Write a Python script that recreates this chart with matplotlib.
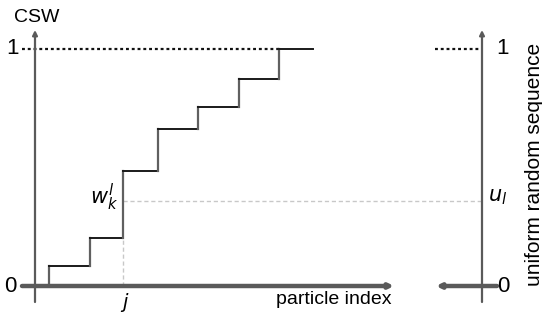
import matplotlib
matplotlib.use("Agg")
import matplotlib.pyplot as plt

# ---- data ----
particle_x = [49, 90, 123, 158, 198, 239, 279, 313]   # step edges along particle index
csw = [0.084, 0.203, 0.485, 0.662, 0.755, 0.873, 1.0]  # cumulative sum of weights
u_l = 0.359            # uniform random number
j_x = 123              # selected particle j
tick_labels = ["0", "1"]

plt.rcParams['font.family'] = ['Liberation Sans', 'DejaVu Sans']

W, H = 542, 322
fig = plt.figure(figsize=(W / 100, H / 100), dpi=100)
ax = fig.add_axes([0, 0, 1, 1])
ax.set_xlim(0, W)
y0px, y1px = 286, 49
scale = y0px - y1px
ax.set_ylim((y0px - H) / scale, y0px / scale)
ax.axis('off')

def py(p):
    return (y0px - p) / scale

axis_col = '#5a5a5a'
FS = 14
FSD = 16

# left vertical axis
ax.annotate('', xy=(35, py(30)), xytext=(35, py(302)),
            arrowprops=dict(arrowstyle='-|>', color=axis_col, lw=1.6,
                            mutation_scale=7, shrinkA=0, shrinkB=0))
# horizontal thick axis
ax.annotate('', xy=(394, 0), xytext=(22, 0),
            arrowprops=dict(arrowstyle='-|>', color=axis_col, lw=3.2,
                            mutation_scale=6, shrinkA=0, shrinkB=0))

# right vertical axis
ax.annotate('', xy=(482, py(30)), xytext=(482, py(302)),
            arrowprops=dict(arrowstyle='-|>', color=axis_col, lw=1.6,
                            mutation_scale=7, shrinkA=0, shrinkB=0))
ax.annotate('', xy=(436, 0), xytext=(497, 0),
            arrowprops=dict(arrowstyle='-|>', color=axis_col, lw=3.2,
                            mutation_scale=6, shrinkA=0, shrinkB=0))

# dotted lines at 1
ax.plot([22, particle_x[-2]], [1, 1], color='#111111', lw=1.6,
        linestyle=(0, (1.3, 1.3)), solid_capstyle='butt')
ax.plot([435, 482], [1, 1], color='#111111', lw=1.6,
        linestyle=(0, (1.3, 1.3)), solid_capstyle='butt')

# gray dashed guides
ax.plot([j_x, 482], [u_l, u_l], color='#c8c8c8', lw=1.0, linestyle=(0, (3, 2)))
ax.plot([j_x, j_x], [0, csw[1]], color='#c8c8c8', lw=1.0, linestyle=(0, (3, 2)))

# staircase
prev = 0.0
for i, v in enumerate(csw):
    ax.plot([particle_x[i], particle_x[i]], [prev, v], color='#606060', lw=1.6,
            solid_capstyle='projecting')
    ax.plot([particle_x[i], particle_x[i + 1]], [v, v], color='#1a1a1a', lw=1.4,
            solid_capstyle='projecting')
    prev = v

# texts
ax.text(37, py(18), 'CSW', fontsize=FS, ha='center', va='center')
ax.text(12, 1, tick_labels[1], fontsize=FSD, ha='center', va='center')
ax.text(10, 0, tick_labels[0], fontsize=FSD, ha='center', va='center')
ax.text(503, 1, tick_labels[1], fontsize=FSD, ha='center', va='center')
ax.text(503, 0, tick_labels[0], fontsize=FSD, ha='center', va='center')
ax.text(118, py(197), r'$w_k^l$', fontsize=FS + 1, ha='right', va='center')
ax.text(488, py(197), r'$u_l$', fontsize=FS + 1, ha='left', va='center')
ax.text(125, py(302), r'$j$', fontsize=FS, ha='center', va='center')
ax.text(391, py(300), 'particle index', fontsize=FS, ha='right', va='center')
ax.text(534, py(164), 'uniform random sequence', fontsize=15, ha='center',
        va='center', rotation=90)

fig.savefig('out.png', dpi=100)
